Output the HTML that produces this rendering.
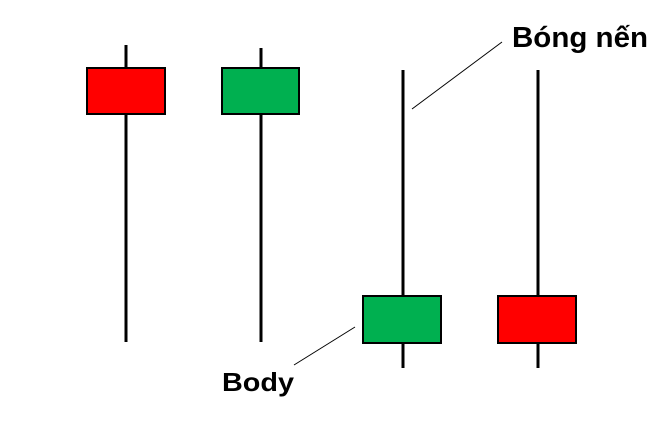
<!DOCTYPE html>
<html><head><style>body{margin:0;background:#fff}svg{display:block}</style></head>
<body>
<svg width="660" height="424" xmlns="http://www.w3.org/2000/svg">
<rect width="660" height="424" fill="#fff"/>
<g stroke="#000" stroke-width="3">
<line x1="126" y1="45" x2="126" y2="342"/>
<line x1="261" y1="48" x2="261" y2="342"/>
<line x1="403" y1="70" x2="403" y2="368"/>
<line x1="538" y1="70" x2="538" y2="368"/>
</g>
<g stroke="#000" stroke-width="2">
<rect x="87" y="68" width="78" height="46" fill="#ff0000"/>
<rect x="222" y="68" width="77" height="46" fill="#00b050"/>
<rect x="363" y="296" width="78" height="47" fill="#00b050"/>
<rect x="498" y="296" width="78" height="47" fill="#ff0000"/>
</g>
<g stroke="#000" stroke-width="1">
<line x1="412" y1="109" x2="502" y2="42"/>
<line x1="294" y1="365" x2="355" y2="327"/>
</g>
<g font-family="Liberation Sans, DejaVu Sans, sans-serif" font-weight="bold" fill="#000">
<text x="512" y="47" font-size="29" textLength="136" lengthAdjust="spacingAndGlyphs">Bóng nến</text>
<text x="222" y="391" font-size="26" textLength="72" lengthAdjust="spacingAndGlyphs">Body</text>
</g>
</svg>
</body></html>
